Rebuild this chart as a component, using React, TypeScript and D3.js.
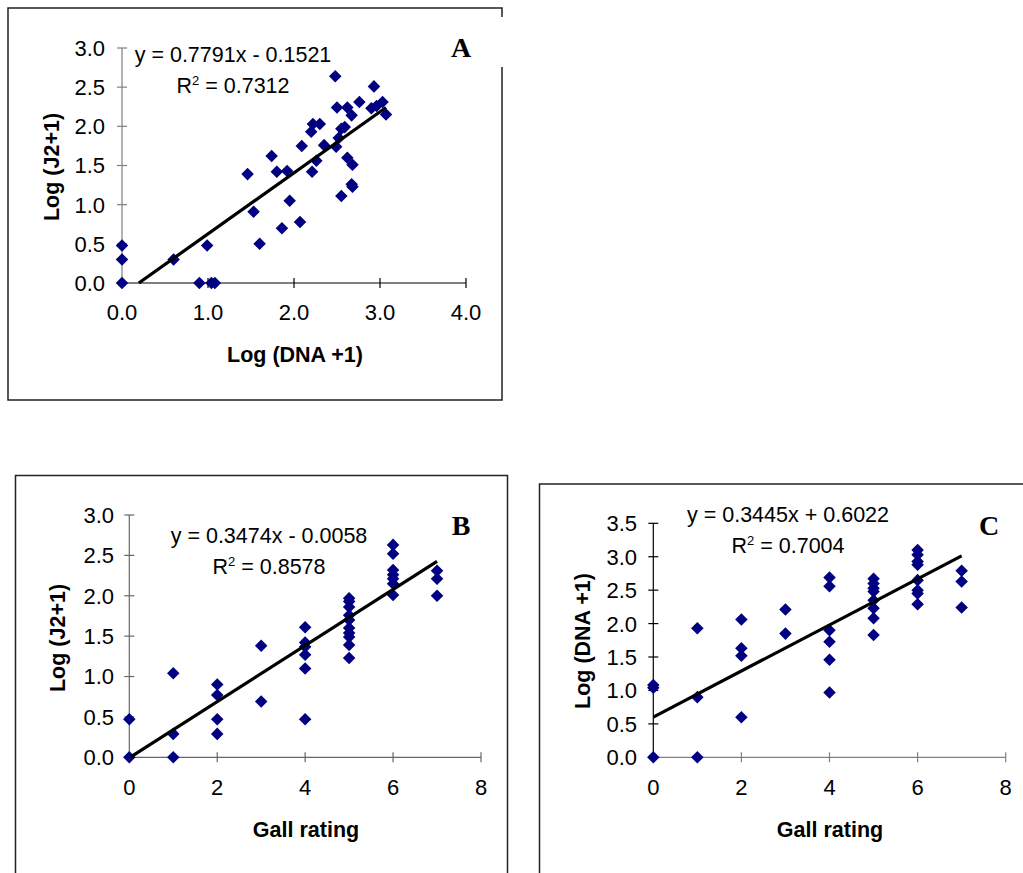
import React from 'react';
import * as d3 from 'd3';

// Panel A: Log (DNA +1) vs Log (J2+1)
const dnaA = [0, 0, 0, 0.6, 0.9, 0.99, 1.04, 1.08, 1.46, 1.53, 1.6, 1.74, 1.8, 1.92, 1.86, 1.95, 2.07, 2.09, 2.2, 2.22, 2.3, 2.21, 2.26, 2.35, 2.48, 2.5, 2.49, 2.52, 2.55, 2.59, 2.55, 2.62, 2.67, 2.62, 2.68, 2.67, 2.68, 2.76, 2.93, 2.9, 2.96, 3.03, 3.07];
const j2A = [0.48, 0.3, 0, 0.3, 0, 0.48, 0, 0, 1.39, 0.91, 0.5, 1.62, 1.42, 1.43, 0.7, 1.05, 0.78, 1.75, 1.93, 2.03, 2.03, 1.42, 1.56, 1.76, 2.64, 2.24, 1.74, 1.85, 1.97, 1.99, 1.11, 2.24, 2.14, 1.6, 1.51, 1.26, 1.23, 2.31, 2.51, 2.23, 2.26, 2.31, 2.15];

// Panel B: Gall rating vs Log (J2+1)
const gallB = [0, 0, 1, 1, 1, 2, 2, 2, 2, 3, 3, 4, 4, 4, 4, 4, 4, 5, 5, 5, 5, 5, 5, 5, 5, 5, 5, 6, 6, 6, 6, 6, 6, 6, 7, 7, 7];
const j2B = [0.47, 0, 1.04, 0.29, 0, 0.9, 0.77, 0.47, 0.29, 1.38, 0.69, 1.61, 1.42, 1.37, 1.27, 1.1, 0.47, 1.97, 1.93, 1.86, 1.76, 1.7, 1.6, 1.54, 1.49, 1.39, 1.23, 2.63, 2.52, 2.32, 2.26, 2.21, 2.15, 2.01, 2.31, 2.21, 2.0];

// Panel C: Gall rating vs Log (DNA +1)
const gallC = [0, 0, 0, 1, 1, 1, 2, 2, 2, 2, 3, 3, 4, 4, 4, 4, 4, 4, 5, 5, 5, 5, 5, 5, 5, 5, 6, 6, 6, 6, 6, 6, 6, 6, 7, 7, 7];
const dnaC = [1.08, 1.04, 0, 1.93, 0.9, 0, 2.06, 1.63, 1.52, 0.6, 2.21, 1.85, 2.69, 2.56, 1.9, 1.73, 1.46, 0.97, 2.67, 2.6, 2.53, 2.48, 2.35, 2.23, 2.08, 1.83, 3.1, 3.03, 2.93, 2.88, 2.65, 2.5, 2.45, 2.29, 2.79, 2.63, 2.24];

const ticksA_x = [0, 1, 2, 3, 4];
const ticksA_y = [0, 0.5, 1, 1.5, 2, 2.5, 3];
const ticksGall = [0, 2, 4, 6, 8];
const ticksB_y = [0, 0.5, 1, 1.5, 2, 2.5, 3];
const ticksC_y = [0, 0.5, 1, 1.5, 2, 2.5, 3, 3.5];

const fitA = { slope: 0.7791, icept: -0.1521, eq: 'y = 0.7791x - 0.1521', r2: '0.7312' };
const fitB = { slope: 0.3474, icept: -0.0058, eq: 'y = 0.3474x - 0.0058', r2: '0.8578' };
const fitC = { slope: 0.3445, icept: 0.6022, eq: 'y = 0.3445x + 0.6022', r2: '0.7004' };

const NAVY = '#000080';
const SANS = '"Liberation Sans", Arial, sans-serif';
const SERIF = '"Liberation Serif", "Times New Roman", serif';

function Panel({ id, xs, ys, xDom, yDom, xR, yR, xTicks, yTicks, xFmt, yFmt, fit, xTitle, yTitle, letter, lay }) {
  const x = d3.scaleLinear().domain(xDom).range(xR);
  const y = d3.scaleLinear().domain(yDom).range(yR);
  const x0 = Math.max(d3.min(xs), (yDom[0] - fit.icept) / fit.slope);
  const x1 = d3.max(xs);
  const line = d3.line().x(d => x(d[0])).y(d => y(d[1]));
  const sym = d3.symbol().type(d3.symbolDiamond2).size(100);

  return (
    <g>
      <clipPath id={'clip' + id}>
        <rect x={xR[0]} y={yR[1]} width={xR[1] - xR[0]} height={yR[0] - yR[1] + 1} />
      </clipPath>
      {/* axes */}
      <line x1={x(xDom[0])} x2={x(xDom[0])} y1={y(yDom[0])} y2={y(yDom[1])} stroke={lay.yAxisColor} strokeWidth={1.2} />
      <line x1={x(xDom[0])} x2={x(xDom[1])} y1={y(yDom[0])} y2={y(yDom[0])} stroke={lay.xAxisColor} strokeWidth={1.2} />
      {yTicks.map(t => (
        <g key={'yt' + t}>
          <line x1={x(xDom[0]) - 5} x2={x(xDom[0]) + 5} y1={y(t)} y2={y(t)} stroke={lay.yAxisColor} strokeWidth={1.2} />
          <text x={lay.yLabelRight} y={y(t)} dy="0.36em" textAnchor="end" fontSize={22} fontFamily={SANS}>{yFmt(t)}</text>
        </g>
      ))}
      {xTicks.map(t => (
        <g key={'xt' + t}>
          <line x1={x(t)} x2={x(t)} y1={y(yDom[0]) - 5} y2={y(yDom[0]) + 5} stroke={lay.xAxisColor} strokeWidth={1.2} />
          <text x={x(t)} y={lay.xLabelBase} textAnchor="middle" fontSize={22} fontFamily={SANS}>{xFmt(t)}</text>
        </g>
      ))}
      {/* points */}
      {xs.map((v, i) => (
        <path key={'p' + i} d={sym()} transform={`translate(${x(v)},${y(ys[i])})`} fill={NAVY} />
      ))}
      {/* trendline */}
      <path
        d={line([[x0, fit.slope * x0 + fit.icept], [x1, fit.slope * x1 + fit.icept]])}
        stroke="#000" strokeWidth={3.2} fill="none" clipPath={`url(#clip${id})`}
      />
      {/* equation */}
      <text x={lay.eqX} y={lay.eqY} textAnchor="middle" fontSize={21.5} fontFamily={SANS}>{fit.eq}</text>
      <text x={lay.eqX} y={lay.eqY + 31} textAnchor="middle" fontSize={21.5} fontFamily={SANS}>
        R<tspan fontSize={13} dy={-8}>2</tspan><tspan dy={8}> = {fit.r2}</tspan>
      </text>
      {/* titles */}
      <text x={lay.xTitleX} y={lay.xTitleY} textAnchor="middle" fontSize={21.5} fontWeight="bold" fontFamily={SANS}>{xTitle}</text>
      <text transform={`translate(${lay.yTitleX},${lay.yTitleY}) rotate(-90)`} textAnchor="middle" dy="0.36em" fontSize={21.5} fontWeight="bold" fontFamily={SANS}>{yTitle}</text>
      <text x={lay.letterX} y={lay.letterY} textAnchor="middle" fontSize={28} fontWeight="bold" fontFamily={SERIF}>{letter}</text>
    </g>
  );
}

export default function App() {
  const f1 = d3.format('.1f');
  const f0 = d3.format('d');
  return (
    <svg width={1023} height={873} style={{ position: 'absolute', left: 0, top: 0, background: '#fff' }}>
      <rect width={1023} height={873} fill="#fff" />
      {/* frames */}
      <rect x={8} y={8} width={494} height={392} fill="none" stroke="#222" strokeWidth={1.5} />
      <rect x={440} y={17} width={70} height={50} fill="#fff" />
      <rect x={15.5} y={475.5} width={492} height={420} fill="none" stroke="#222" strokeWidth={1.5} />
      <rect x={539.5} y={484} width={500} height={420} fill="none" stroke="#222" strokeWidth={1.5} />

      <Panel
        id="A" xs={dnaA} ys={j2A} xDom={[0, 4]} yDom={[0, 3]} xR={[122, 466]} yR={[283, 48]}
        xTicks={ticksA_x} yTicks={ticksA_y} xFmt={f1} yFmt={f1} fit={fitA}
        xTitle="Log (DNA +1)" yTitle="Log (J2+1)" letter="A"
        lay={{ yAxisColor: '#808080', xAxisColor: '#000', yLabelRight: 105, xLabelBase: 320, eqX: 233, eqY: 62,
          xTitleX: 295, xTitleY: 362, yTitleX: 51, yTitleY: 167, letterX: 461, letterY: 57 }}
      />
      <Panel
        id="B" xs={gallB} ys={j2B} xDom={[0, 8]} yDom={[0, 3]} xR={[129.3, 481]} yR={[757.3, 515]}
        xTicks={ticksGall} yTicks={ticksB_y} xFmt={f0} yFmt={f1} fit={fitB}
        xTitle="Gall rating" yTitle="Log (J2+1)" letter="B"
        lay={{ yAxisColor: '#666', xAxisColor: '#666', yLabelRight: 114, xLabelBase: 795, eqX: 269, eqY: 543,
          xTitleX: 306, xTitleY: 837, yTitleX: 57.5, yTitleY: 638, letterX: 461, letterY: 535 }}
      />
      <Panel
        id="C" xs={gallC} ys={dnaC} xDom={[0, 8]} yDom={[0, 3.5]} xR={[653.3, 1005.7]} yR={[757.3, 523.3]}
        xTicks={ticksGall} yTicks={ticksC_y} xFmt={f0} yFmt={f1} fit={fitC}
        xTitle="Gall rating" yTitle="Log (DNA +1)" letter="C"
        lay={{ yAxisColor: '#000', xAxisColor: '#808080', yLabelRight: 637, xLabelBase: 795, eqX: 788, eqY: 522,
          xTitleX: 830, xTitleY: 837, yTitleX: 582.5, yTitleY: 641, letterX: 989, letterY: 535 }}
      />
    </svg>
  );
}
